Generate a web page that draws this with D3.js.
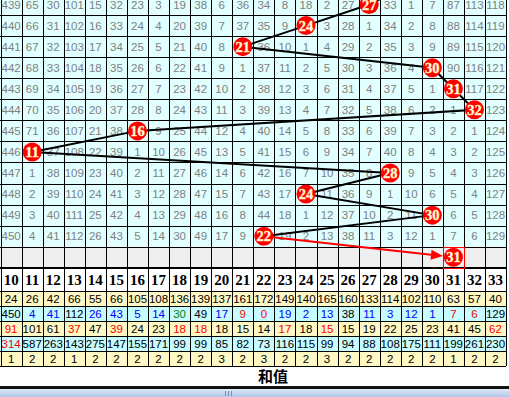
<!DOCTYPE html>
<html>
<head>
<meta charset="utf-8">
<script src="https://cdn.jsdelivr.net/npm/d3@7/dist/d3.min.js"></script>
<style>
  body { margin: 0; background: #fff; overflow: hidden; }
</style>
</head>
<body>
<div id="chart"></div>
<script>
// sum columns (first one shares the period column)
var sumCols = [10, 11, 12, 13, 14, 15, 16, 17, 18, 19, 20, 21, 22, 23, 24, 25, 26, 27, 28, 29, 30, 31, 32, 33];
var periods = [439, 440, 441, 442, 443, 444, 445, 446, 447, 448, 449, 450];
// drawn sum per period
var hits = [27, 24, 21, 30, 31, 32, 16, 11, 28, 24, 30, 22];
var prevHit = 29;      // period 438, above the visible area
var predicted = 31;

// omission counts for sums 11..33, null where the sum was drawn
var missRows = [
  [65, 30, 101, 15, 32, 23, 3, 19, 38, 6, 36, 34, 8, 18, 2, 27, null, 33, 1, 7, 87, 113, 118],
  [66, 31, 102, 16, 33, 24, 4, 20, 39, 7, 37, 35, 9, null, 3, 28, 1, 34, 2, 8, 88, 114, 119],
  [67, 32, 103, 17, 34, 25, 5, 21, 40, 8, null, 36, 10, 1, 4, 29, 2, 35, 3, 9, 89, 115, 120],
  [68, 33, 104, 18, 35, 26, 6, 22, 41, 9, 1, 37, 11, 2, 5, 30, 3, 36, 4, null, 90, 116, 121],
  [69, 34, 105, 19, 36, 27, 7, 23, 42, 10, 2, 38, 12, 3, 6, 31, 4, 37, 5, 1, null, 117, 122],
  [70, 35, 106, 20, 37, 28, 8, 24, 43, 11, 3, 39, 13, 4, 7, 32, 5, 38, 6, 2, 1, null, 123],
  [71, 36, 107, 21, 38, null, 9, 25, 44, 12, 4, 40, 14, 5, 8, 33, 6, 39, 7, 3, 2, 1, 124],
  [null, 37, 108, 22, 39, 1, 10, 26, 45, 13, 5, 41, 15, 6, 9, 34, 7, 40, 8, 4, 3, 2, 125],
  [1, 38, 109, 23, 40, 2, 11, 27, 46, 14, 6, 42, 16, 7, 10, 35, 8, null, 9, 5, 4, 3, 126],
  [2, 39, 110, 24, 41, 3, 12, 28, 47, 15, 7, 43, 17, null, 11, 36, 9, 1, 10, 6, 5, 4, 127],
  [3, 40, 111, 25, 42, 4, 13, 29, 48, 16, 8, 44, 18, 1, 12, 37, 10, 2, 11, null, 6, 5, 128],
  [4, 41, 112, 26, 43, 5, 14, 30, 49, 17, 9, null, 19, 2, 13, 38, 11, 3, 12, 1, 7, 6, 129]
];

// statistics rows under the header (sums 10..33)
var hitCount  = [24, 26, 42, 66, 55, 66, 105, 108, 136, 139, 137, 161, 172, 149, 140, 165, 160, 133, 114, 102, 110, 63, 57, 40];
var curMiss   = [450, 4, 41, 112, 26, 43, 5, 14, 30, 49, 17, 9, 0, 19, 2, 13, 38, 11, 3, 12, 1, 7, 6, 129];
var avgMiss   = [91, 101, 61, 37, 47, 39, 24, 23, 18, 18, 18, 15, 14, 17, 18, 15, 15, 19, 22, 25, 23, 41, 45, 62];
var maxMiss   = [314, 587, 263, 143, 275, 147, 155, 171, 99, 99, 85, 82, 73, 116, 115, 99, 94, 88, 108, 175, 111, 199, 261, 230];
var maxRepeat = [1, 2, 2, 1, 2, 2, 2, 2, 2, 2, 3, 2, 3, 2, 2, 3, 2, 2, 2, 2, 2, 1, 2, 2];
var footLabel = "和值";

// text tones for the stat rows (k black, b blue, r red, g green)
var curMissTone = "kbbkbbbbgkbrrbbbkbbbbrrk".split("");
var avgMissTone = "rkkrkrkkrrkkkrkrkkkkkkkr".split("");
var maxMissTone = "rkkkkkkkkkkkkkkkkkkkkkkk".split("");
var toneColor = { k: "#000", b: "#0000ff", r: "#ff0000", g: "#008000" };

var svgWidth = 509;
var svgHeight = 397;
var colW = 21.06;
var rowH = 21.06;

var svg = d3.select("#chart").append("svg")
  .attr("width", svgWidth)
  .attr("height", svgHeight)
  .style("display", "block");

var x = d3.scaleBand().domain(sumCols).range([0.6, 0.6 + sumCols.length * colW]);
var rowKeys = periods.concat(["next"]);
var y = d3.scaleBand().domain(rowKeys).range([-6, -6 + rowKeys.length * rowH]);
var headTop = y.range()[1];
var headBottom = 291;
var statRows = [hitCount, curMiss, avgMiss, maxMiss, maxRepeat];
var statTones = [null, curMissTone, avgMissTone, maxMissTone, null];
var ys = d3.scaleBand().domain(d3.range(statRows.length)).range([headBottom, headBottom + 15 * statRows.length]);
var tableRight = x.range()[1];

function px(v) { return Math.round(v) + 0.5; }

// backgrounds
svg.append("rect").attr("x", 0).attr("y", 0).attr("width", tableRight).attr("height", y("next"))
  .attr("fill", "#e1ffff");
svg.append("rect").attr("x", 0).attr("y", y("next")).attr("width", tableRight).attr("height", rowH)
  .attr("fill", "#efefef");
svg.selectAll(".statbg").data(statRows).enter().append("rect")
  .attr("x", 0).attr("y", (d, i) => ys(i)).attr("width", tableRight).attr("height", ys.bandwidth())
  .attr("fill", (d, i) => i % 2 === 0 ? "#fff7c4" : "#c6fbff");

// grid lines
var grid = svg.append("g").attr("stroke", "#000").attr("stroke-width", 1).attr("shape-rendering", "crispEdges");
var colEdges = sumCols.map(d => x(d)).concat([tableRight]);
colEdges.forEach(function(e) {
  grid.append("line").attr("x1", px(e)).attr("x2", px(e)).attr("y1", 0).attr("y2", ys.range()[1]);
});
var rowEdges = rowKeys.map(d => y(d)).concat([headTop]).filter(v => v > 0);
rowEdges.forEach(function(e) {
  grid.append("line").attr("x1", 0).attr("x2", tableRight).attr("y1", px(e)).attr("y2", px(e));
});
d3.range(statRows.length + 1).forEach(function(i) {
  var e = headBottom + ys.step() * i;
  grid.append("line").attr("x1", 0).attr("x2", tableRight).attr("y1", px(e)).attr("y2", px(e));
});
svg.append("rect").attr("x", 0).attr("y", Math.round(headTop) - 1).attr("width", tableRight).attr("height", 2)
  .attr("fill", "#000");

// omission numbers in the upper grid
var cellFont = "'Liberation Sans', Arial, sans-serif";
periods.forEach(function(p, r) {
  var cells = [p].concat(missRows[r]);
  var g = svg.append("g");
  cells.forEach(function(v, i) {
    if (v === null) return;
    g.append("text")
      .attr("x", x(sumCols[i]) + x.bandwidth() / 2)
      .attr("y", y(p) + y.bandwidth() / 2 + 4)
      .attr("text-anchor", "middle")
      .attr("font-family", cellFont)
      .attr("font-size", 11.5)
      .attr("fill", "#808080")
      .text(v);
  });
});

// header labels
svg.append("g").selectAll("text").data(sumCols).enter().append("text")
  .attr("x", d => x(d) + x.bandwidth() / 2)
  .attr("y", (headTop + headBottom) / 2 + 5.5)
  .attr("text-anchor", "middle")
  .attr("font-family", "'Liberation Serif', 'Times New Roman', serif")
  .attr("font-weight", "bold")
  .attr("font-size", 15)
  .attr("fill", "#000")
  .text(d => d);

// stat rows
statRows.forEach(function(row, r) {
  var tones = statTones[r];
  svg.append("g").selectAll("text").data(row).enter().append("text")
    .attr("x", (d, i) => x(sumCols[i]) + x.bandwidth() / 2)
    .attr("y", ys(r) + ys.bandwidth() / 2 + 4)
    .attr("text-anchor", "middle")
    .attr("font-family", cellFont)
    .attr("font-size", 11.5)
    .attr("fill", (d, i) => tones ? toneColor[tones[i]] : "#000")
    .text(d => d);
});

// footer label
svg.append("text")
  .attr("x", 273)
  .attr("y", 382)
  .attr("text-anchor", "middle")
  .attr("font-family", "'Noto Sans CJK SC', sans-serif")
  .attr("font-weight", "bold")
  .attr("font-size", 15)
  .attr("fill", "#000")
  .text(footLabel);

// scrollbar strip at the bottom
svg.append("rect").attr("x", 0).attr("y", 386).attr("width", svgWidth).attr("height", 3).attr("fill", "#111");
var grad = svg.append("defs").append("linearGradient").attr("id", "sb").attr("x1", 0).attr("x2", 0).attr("y1", 0).attr("y2", 1);
grad.append("stop").attr("offset", 0).attr("stop-color", "#dfe9f6");
grad.append("stop").attr("offset", 1).attr("stop-color", "#aec6e8");
svg.append("rect").attr("x", 0).attr("y", 389).attr("width", svgWidth).attr("height", 8).attr("fill", "url(#sb)");
[225, 228, 231].forEach(function(gx) {
  svg.append("rect").attr("x", gx).attr("y", 391).attr("width", 1).attr("height", 5).attr("fill", "#6f8fb8");
});

// ball trail
var cx = v => x(v) + x.bandwidth() / 2;
var cy = p => y(p) + y.bandwidth() / 2;
var trail = [[cx(prevHit), cy(periods[0]) - rowH]].concat(hits.map((h, i) => [cx(h), cy(periods[i])]));
svg.append("path")
  .attr("d", d3.line()(trail))
  .attr("fill", "none")
  .attr("stroke", "#000")
  .attr("stroke-width", 2);

// red forecast arrow
var from = trail[trail.length - 1];
var to = [cx(predicted), cy("next")];
var ang = Math.atan2(to[1] - from[1], to[0] - from[0]);
var tip = [to[0] - Math.cos(ang) * 10.5, to[1] - Math.sin(ang) * 10.5];
var base = [tip[0] - Math.cos(ang) * 12, tip[1] - Math.sin(ang) * 12];
svg.append("line")
  .attr("x1", from[0]).attr("y1", from[1]).attr("x2", base[0]).attr("y2", base[1])
  .attr("stroke", "#ff0000").attr("stroke-width", 2);
var nx = -Math.sin(ang), ny = Math.cos(ang);
svg.append("path")
  .attr("d", d3.line()([tip, [base[0] + nx * 5, base[1] + ny * 5], [base[0] - nx * 5, base[1] - ny * 5]]) + "Z")
  .attr("fill", "#ff0000");

// forecast cell box
svg.append("rect")
  .attr("x", px(x(predicted))).attr("y", px(y("next")))
  .attr("width", Math.round(x.bandwidth())).attr("height", Math.round(y.bandwidth()))
  .attr("fill", "none").attr("stroke", "#ff0000").attr("stroke-width", 1);

// balls
var balls = hits.map((h, i) => ({ v: h, p: periods[i] })).concat([{ v: predicted, p: "next" }]);
var ballG = svg.append("g").selectAll("g").data(balls).enter().append("g")
  .attr("transform", d => `translate(${cx(d.v)},${cy(d.p)})`);
ballG.append("circle").attr("r", 9.5).attr("fill", "#ff0000");
ballG.append("text")
  .attr("y", 5)
  .attr("text-anchor", "middle")
  .attr("font-family", "'Liberation Serif', 'Times New Roman', serif")
  .attr("font-weight", "bold")
  .attr("font-size", 14.5)
  .attr("fill", "#fff")
  .attr("stroke", "#ffe680")
  .attr("stroke-width", 0.4)
  .text(d => d.v);
</script>
</body>
</html>
